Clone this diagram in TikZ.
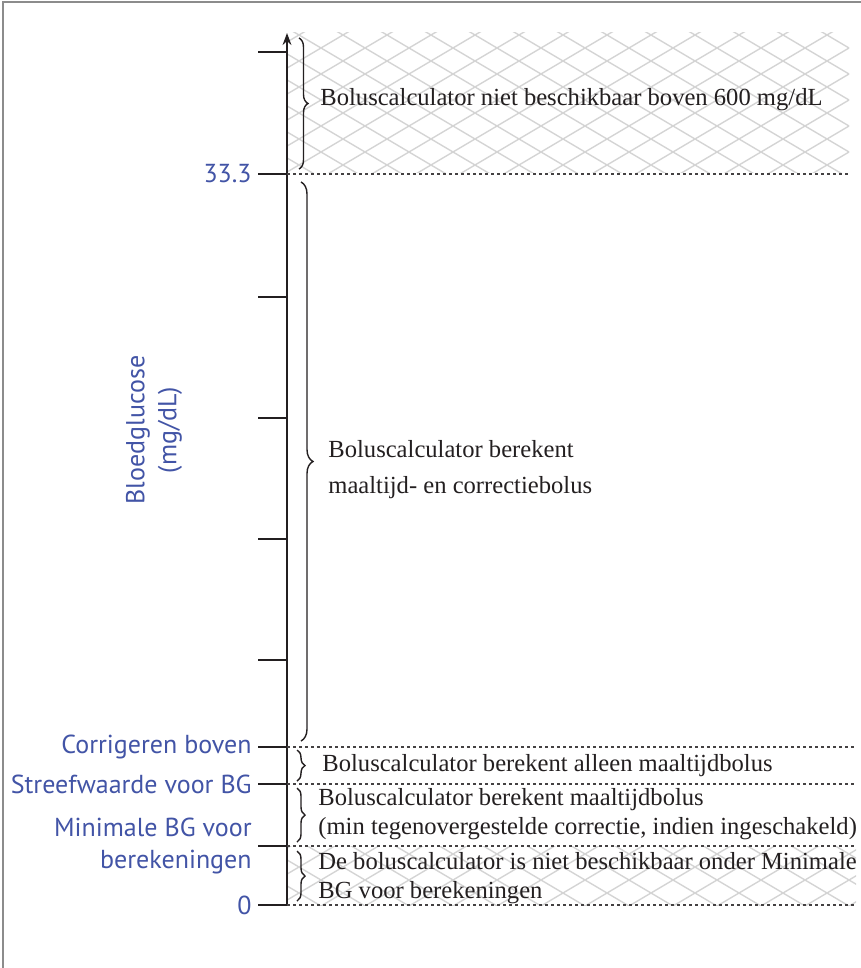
\documentclass[tikz,border=0pt]{standalone}
\usepackage{fontspec}
\setmainfont{Liberation Serif}
\newfontfamily\axisfont{PT Sans}
\usepackage{tikz}
\usetikzlibrary{positioning, arrows.meta, decorations.pathreplacing, calc}
\definecolor{bgBlue}{HTML}{4254A6}
\definecolor{bgInk}{HTML}{231F20}
\definecolor{bgGrid}{HTML}{D4D4D4}
\definecolor{bgFrame}{HTML}{8C8C8C}

% cross-hatched band between two levels
\newcommand{\hatchzone}[4]{%
  \begin{scope}
    \clip (#1,#2) rectangle (#3,#4);
    \foreach \k in {-34,...,48}{
      \draw[hatchline] ({277+44*\k-1650},-95) -- ({277+44*\k+1650},1855);
      \draw[hatchline] ({277+44*\k+1650},-95) -- ({277+44*\k-1650},1855);
    }
  \end{scope}}

\begin{document}
\begin{tikzpicture}[
    x=0.5pt, y=-0.5pt,
    >={Stealth[length=6pt, width=4.4pt]},
    hatchline/.style={bgGrid, line width=0.7pt},
    axisline/.style={->, bgInk, line width=0.9pt},
    tickline/.style={bgInk, line width=0.7pt},
    levelline/.style={bgInk!85, line width=0.6pt, dash pattern=on 1.6pt off 1.4pt},
    brc/.style={decorate, decoration={brace, amplitude=#1}, bgInk, line width=0.7pt},
    brc/.default=4pt,
    lvl/.style={font=\axisfont\fontsize{13}{16}\selectfont, text=bgBlue, align=right, inner sep=0pt},
    note/.style={font=\fontsize{12.3}{14.8}\selectfont, text=bgInk, align=left, anchor=west, inner sep=0pt},
]

\useasboundingbox (0,0) rectangle (861,968);

% --- frame ---
\draw[bgFrame, line width=0.7pt] (3,968) -- (3,2) -- (861,2);

% --- hatched bands ---
\hatchzone{288}{33}{849}{173}
\hatchzone{288}{846}{856}{905}

% --- levels on the axis ---
\coordinate (yZero) at (287,905);
\coordinate (yMin) at (287,846);
\coordinate (yTarget) at (287,784);
\coordinate (yCorr) at (287,747);
\coordinate (yMax) at (287,174);
\coordinate (yTop) at (287,33);
\coordinate (rEdge) at (856,0);
\coordinate (rEdgeTop) at (849,0);

\draw[axisline] (yZero) -- (yTop);

% ticks
\foreach \t in {52,297,418,539,660}
  \draw[tickline] (258,\t) -- (287,\t);
\foreach \c in {yZero,yMin,yTarget,yCorr,yMax}
  \draw[tickline] (\c) -- ++(-29,0) coordinate (\c-l);

% dotted level lines
\foreach \c in {yZero,yMin,yTarget,yCorr}
  \draw[levelline] (\c) -- (\c -| rEdge);
\draw[levelline] (yMax) -- (yMax -| rEdgeTop);

% --- blue level labels ---
\node[lvl, left=3pt of yMax-l] (lMax) {33.3};
\node[lvl, left=3pt of yCorr-l] (lCorr) {Corrigeren boven};
\node[lvl, left=3pt of yTarget-l] (lTarget) {Streefwaarde voor BG};
\node[lvl, left=3pt of yMin-l] (lMin) {Minimale BG voor\\berekeningen};
\node[lvl, left=3pt of yZero-l] (lZero) {0};

\node[lvl, rotate=90, align=center] (yTitle) at (154,430) {Bloedglucose\\(mg/dL)};

% --- braces ---
\draw[brc=4.5pt] (299,38) -- (299,169);
\draw[brc=6pt] (301,182) -- (301,741);
\draw[brc] (297,750) -- (297,781);
\draw[brc] (297,788) -- (297,842);
\draw[brc] (297,851) -- (297,901);

% --- range descriptions ---
\node[note] (nAbove) at (320,100) {Boluscalculator niet beschikbaar boven 600 mg/dL};
\node[note, font=\fontsize{12.3}{18}\selectfont] (nFull) at (328,470) {Boluscalculator berekent\\maaltijd- en correctiebolus};
\node[note] (nMeal) at (322,766) {Boluscalculator berekent alleen maaltijdbolus};
\node[note] (nReverse) at (318,814) {Boluscalculator berekent maaltijdbolus\\(min tegenovergestelde correctie, indien ingeschakeld)};
\node[note] (nBelow) at (318,878) {De boluscalculator is niet beschikbaar onder Minimale\\BG voor berekeningen};

\end{tikzpicture}
\end{document}
